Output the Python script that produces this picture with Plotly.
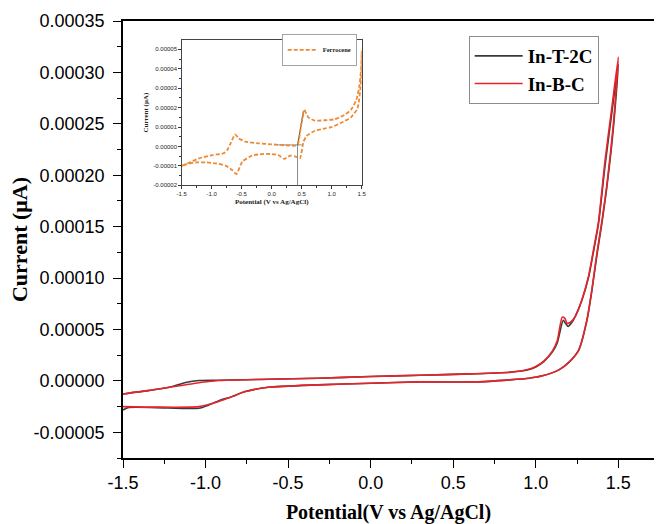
import plotly.graph_objects as go

# ---- Main CV data (Potential V vs Ag/AgCl, Current) ----
red_v = [-1.50, -1.35, -1.22, -1.07, -0.92, -0.62, -0.32, 0.00, 0.30, 0.60, 0.85, 0.95, 1.00, 1.05, 1.10, 1.13, 1.16,
         1.175, 1.19, 1.21, 1.24, 1.28, 1.32, 1.35, 1.38, 1.42, 1.46, 1.50,
         1.47, 1.43, 1.40, 1.37, 1.34, 1.31, 1.26, 1.20, 1.14, 1.04, 0.96, 0.84, 0.64, 0.30, 0.00, -0.32, -0.62,
         -0.76, -0.85, -0.92, -1.04, -1.30, -1.50]
red_i = [-1.27e-5, -0.95e-5, -0.62e-5, -0.25e-5, 0.03e-5, 0.16e-5, 0.26e-5, 0.42e-5, 0.55e-5, 0.68e-5, 0.85e-5, 1.10e-5, 1.40e-5, 1.95e-5, 2.90e-5, 3.90e-5, 6.20e-5,
         6.10e-5, 5.60e-5, 5.70e-5, 6.30e-5, 7.90e-5, 10.2e-5, 12.8e-5, 15.5e-5, 21.5e-5, 26.5e-5, 31.5e-5,
         25.0e-5, 19.0e-5, 15.5e-5, 12.4e-5, 8.9e-5, 5.95e-5, 3.0e-5, 1.8e-5, 1.07e-5, 0.49e-5, 0.26e-5, 0.10e-5, -0.10e-5, -0.10e-5, -0.23e-5, -0.39e-5, -0.62e-5,
         -1.04e-5, -1.60e-5, -2.00e-5, -2.50e-5, -2.55e-5, -2.50e-5]

black_v = [-1.50, -1.35, -1.22, -1.12, -1.04, -0.92, -0.62, -0.32, 0.00, 0.30, 0.60, 0.85, 0.95, 1.00, 1.05, 1.10, 1.13, 1.166,
           1.18, 1.195, 1.215, 1.24, 1.28, 1.32, 1.35, 1.38, 1.42, 1.46, 1.50,
           1.47, 1.43, 1.40, 1.37, 1.34, 1.31, 1.26, 1.20, 1.14, 1.04, 0.96, 0.84, 0.64, 0.30, 0.00, -0.32, -0.62,
           -0.76, -0.85, -0.90, -0.98, -1.04, -1.30, -1.47, -1.50]
black_i = [-1.27e-5, -0.95e-5, -0.62e-5, -0.16e-5, 0.03e-5, 0.06e-5, 0.16e-5, 0.26e-5, 0.42e-5, 0.55e-5, 0.68e-5, 0.85e-5, 1.05e-5, 1.35e-5, 1.90e-5, 2.80e-5, 3.70e-5, 5.90e-5,
           5.60e-5, 5.30e-5, 5.60e-5, 6.30e-5, 7.90e-5, 10.1e-5, 12.6e-5, 15.3e-5, 21.0e-5, 26.0e-5, 30.8e-5,
           24.6e-5, 18.8e-5, 15.3e-5, 12.2e-5, 8.8e-5, 5.9e-5, 3.0e-5, 1.8e-5, 1.07e-5, 0.49e-5, 0.26e-5, 0.10e-5, -0.10e-5, -0.10e-5, -0.23e-5, -0.39e-5, -0.62e-5,
           -1.04e-5, -1.60e-5, -1.80e-5, -2.34e-5, -2.66e-5, -2.60e-5, -2.60e-5, -2.83e-5]

# ---- Inset: ferrocene CV ----
fc_v = [-1.50, -1.35, -1.21, -0.99, -0.80, -0.74, -0.68, -0.61, -0.55, -0.44, -0.22, 0.00, 0.22, 0.39, 0.44, 0.48, 0.54,
        0.61, 0.72, 0.88, 1.05, 1.21, 1.32, 1.41, 1.46, 1.49, 1.50,
        1.49, 1.43, 1.32, 1.16, 0.99, 0.88, 0.72, 0.58, 0.53, 0.47, 0.40, 0.31, 0.21, 0.11, 0.00, -0.16, -0.33,
        -0.49, -0.59, -0.66, -0.77, -0.93, -1.10, -1.26, -1.43, -1.50]
fc_i = [-1.00e-5, -0.80e-5, -0.61e-5, -0.44e-5, -0.35e-5, -0.18e-5, 0.20e-5, 0.62e-5, 0.42e-5, 0.25e-5, 0.16e-5, 0.11e-5, 0.06e-5, 0.04e-5, 0.16e-5, 0.90e-5, 1.90e-5,
        1.50e-5, 1.33e-5, 1.35e-5, 1.40e-5, 1.62e-5, 1.88e-5, 2.40e-5, 3.10e-5, 4.00e-5, 4.90e-5,
        3.40e-5, 1.96e-5, 1.50e-5, 1.22e-5, 0.99e-5, 0.92e-5, 0.81e-5, 0.54e-5, 0.25e-5, -0.61e-5, -0.52e-5, -0.47e-5, -0.64e-5, -0.44e-5, -0.39e-5, -0.39e-5, -0.47e-5,
        -0.78e-5, -1.42e-5, -1.21e-5, -0.99e-5, -0.87e-5, -0.82e-5, -0.82e-5, -0.92e-5, -1.04e-5]

# construction lines in inset
base_v = [0.10, 0.50]
base_i = [0.08e-5, 0.08e-5]
vert_v = [0.43, 0.43]
vert_i = [0.08e-5, -2.0e-5]
tan_v = [0.43, 0.53]
tan_i = [0.08e-5, 1.75e-5]

main_x_ticks = [-1.5, -1.0, -0.5, 0.0, 0.5, 1.0, 1.5]
main_x_labels = ["-1.5", "-1.0", "-0.5", "0.0", "0.5", "1.0", "1.5"]
main_y_ticks = [-0.00005, 0.0, 0.00005, 0.00010, 0.00015, 0.00020, 0.00025, 0.00030, 0.00035]
main_y_labels = ["-0.00005", "0.00000", "0.00005", "0.00010", "0.00015", "0.00020", "0.00025", "0.00030", "0.00035"]
inset_x_ticks = [-1.5, -1.0, -0.5, 0.0, 0.5, 1.0, 1.5]
inset_x_labels = ["-1.5", "-1.0", "-0.5", "0.0", "0.5", "1.0", "1.5"]
inset_y_ticks = [-0.00002, -0.00001, 0.0, 0.00001, 0.00002, 0.00003, 0.00004, 0.00005]
inset_y_labels = ["-0.00002", "-0.00001", "0.00000", "0.00001", "0.00002", "0.00003", "0.00004", "0.00005"]

serif = "Liberation Serif"
sans = "Liberation Sans"

fig = go.Figure()

fig.add_trace(go.Scatter(x=black_v, y=black_i, mode="lines", name="In-T-2C",
                         line=dict(color="#3a3a3a", width=1.6, shape="spline", smoothing=0.6),
                         xaxis="x", yaxis="y", legend="legend"))
fig.add_trace(go.Scatter(x=red_v, y=red_i, mode="lines", name="In-B-C",
                         line=dict(color="#e8242b", width=1.6, shape="spline", smoothing=0.6),
                         xaxis="x", yaxis="y", legend="legend"))

fig.add_trace(go.Scatter(x=base_v, y=base_i, mode="lines", showlegend=False,
                         line=dict(color="#8a8a8a", width=1), xaxis="x2", yaxis="y2"))
fig.add_trace(go.Scatter(x=vert_v, y=vert_i, mode="lines", showlegend=False,
                         line=dict(color="#8a8a8a", width=1), xaxis="x2", yaxis="y2"))
fig.add_trace(go.Scatter(x=tan_v, y=tan_i, mode="lines", showlegend=False,
                         line=dict(color="#6b5a4a", width=1.2), xaxis="x2", yaxis="y2"))
fig.add_trace(go.Scatter(x=fc_v, y=fc_i, mode="lines", name="Ferrocene",
                         line=dict(color="#ec8a35", width=1.8, dash="4px,2px", shape="spline", smoothing=0.5),
                         xaxis="x2", yaxis="y2", legend="legend2"))

fig.update_layout(
    width=659, height=524,
    margin=dict(l=123, r=0, t=21, b=66),
    paper_bgcolor="white", plot_bgcolor="white",
    xaxis=dict(range=[-1.5, 1.716], tickvals=main_x_ticks, ticktext=main_x_labels,
               ticks="outside", ticklen=8, tickwidth=1.3, tickcolor="black",
               minor=dict(dtick=0.25, ticks="outside", ticklen=4, tickwidth=1.2, tickcolor="black", showgrid=False),
               showline=True, linecolor="black", linewidth=1.6, mirror=True, showgrid=False, zeroline=False,
               tickfont=dict(family=sans, size=18, color="black"), ticklabelstandoff=0, automargin=False,
               title=dict(text="Potential(V vs Ag/AgCl)",
                          font=dict(family=serif, size=20, color="black", weight="bold"), standoff=21)),
    yaxis=dict(range=[-0.000075, 0.00035], tickvals=main_y_ticks, ticktext=main_y_labels,
               ticks="outside", ticklen=8, tickwidth=1.3, tickcolor="black",
               minor=dict(dtick=0.000025, tick0=0, ticks="outside", ticklen=4, tickwidth=1.2, tickcolor="black", showgrid=False),
               showline=True, linecolor="black", linewidth=1.6, showgrid=False, zeroline=False,
               tickfont=dict(family=sans, size=18, color="black"), ticklabelstandoff=5, automargin=False,
               title=dict(text="Current (μA)",
                          font=dict(family=serif, size=22, color="black", weight="bold"), standoff=0)),
    xaxis2=dict(domain=[0.1106, 0.4496], anchor="y2", range=[-1.5, 1.5],
                tickvals=inset_x_ticks, ticktext=inset_x_labels,
                ticks="outside", ticklen=2.5, tickwidth=0.8, tickcolor="#333",
                minor=dict(dtick=0.25, ticks="outside", ticklen=1.5, tickwidth=0.8, tickcolor="#333", showgrid=False),
                showline=True, linecolor="#444", linewidth=1, mirror=True, showgrid=False, zeroline=False,
                tickfont=dict(family=sans, size=6, color="#222"),
                title=dict(text="Potential (V vs Ag/AgCl)",
                           font=dict(family=serif, size=7, color="#222", weight="bold"), standoff=3)),
    yaxis2=dict(domain=[0.624, 0.9565], anchor="x2", range=[-0.00002, 0.0000548],
                tickvals=inset_y_ticks, ticktext=inset_y_labels,
                ticks="outside", ticklen=2.5, tickwidth=0.8, tickcolor="#333",
                minor=dict(dtick=0.000005, tick0=0, ticks="outside", ticklen=1.5, tickwidth=0.8, tickcolor="#333", showgrid=False),
                showline=True, linecolor="#444", linewidth=1, mirror=True, showgrid=False, zeroline=False,
                tickfont=dict(family=sans, size=6, color="#222"),
                title=dict(text="Current (μA)",
                           font=dict(family=serif, size=7, color="#222", weight="bold"), standoff=3)),
    legend=dict(x=0.651, y=0.9657, xanchor="left", yanchor="top", bgcolor="white",
                bordercolor="#8c8c8c", borderwidth=1, itemwidth=48,
                font=dict(family=serif, size=19, color="black", weight="bold"), tracegroupgap=0),
    legend2=dict(x=0.4405, y=0.9336, xanchor="right", yanchor="middle", bgcolor="white",
                 bordercolor="#8c8c8c", borderwidth=0.8, itemwidth=30,
                 font=dict(family=serif, size=6.5, color="#222", weight="bold")),
)

fig.write_html("out.html", config={"displayModeBar": False},
               post_script="document.body.style.margin='0';")
